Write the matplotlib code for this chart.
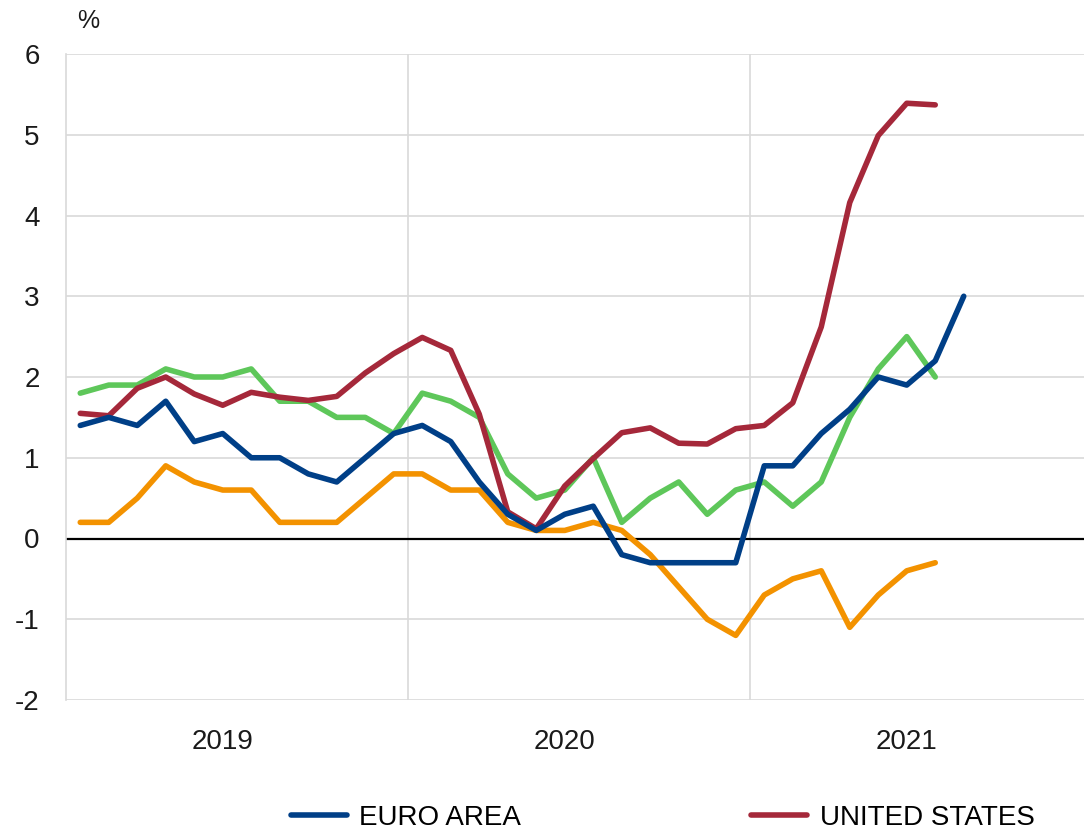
import numpy as np
import matplotlib
matplotlib.use("Agg")
import matplotlib.pyplot as plt

# monthly year-on-year inflation, Jan 2019 onwards (%)
euro_area = [1.4, 1.5, 1.4, 1.7, 1.2, 1.3, 1.0, 1.0, 0.8, 0.7, 1.0, 1.3,
             1.4, 1.2, 0.7, 0.3, 0.1, 0.3, 0.4, -0.2, -0.3, -0.3, -0.3, -0.3,
             0.9, 0.9, 1.3, 1.6, 2.0, 1.9, 2.2, 3.0]
united_states = [1.55, 1.52, 1.86, 2.0, 1.79, 1.65, 1.81, 1.75, 1.71, 1.76, 2.05, 2.29,
                 2.49, 2.33, 1.54, 0.33, 0.12, 0.65, 0.99, 1.31, 1.37, 1.18, 1.17, 1.36,
                 1.40, 1.68, 2.62, 4.16, 4.99, 5.39, 5.37]
united_kingdom = [1.8, 1.9, 1.9, 2.1, 2.0, 2.0, 2.1, 1.7, 1.7, 1.5, 1.5, 1.3,
                  1.8, 1.7, 1.5, 0.8, 0.5, 0.6, 1.0, 0.2, 0.5, 0.7, 0.3, 0.6,
                  0.7, 0.4, 0.7, 1.5, 2.1, 2.5, 2.0]
japan = [0.2, 0.2, 0.5, 0.9, 0.7, 0.6, 0.6, 0.2, 0.2, 0.2, 0.5, 0.8,
         0.8, 0.6, 0.6, 0.2, 0.1, 0.1, 0.2, 0.1, -0.2, -0.6, -1.0, -1.2,
         -0.7, -0.5, -0.4, -1.1, -0.7, -0.4, -0.3]
years = ["2019", "2020", "2021"]

plt.rcParams['font.family'] = ['Liberation Sans', 'DejaVu Sans']

fig = plt.figure(figsize=(10.84, 8.33), dpi=100)
ax = fig.add_axes([66 / 1084, 1 - 700 / 833, 1 - 66 / 1084, (700 - 54) / 833])

grid_c = '#d9d9d9'
text_c = '#1a1a1a'
lw = 4.0
ax.plot(np.arange(len(japan)), japan, color='#f39200', lw=lw, solid_capstyle='round', zorder=3)
ax.plot(np.arange(len(united_kingdom)), united_kingdom, color='#5ec75a', lw=lw, solid_capstyle='round', zorder=4)
ax.plot(np.arange(len(united_states)), united_states, color='#a5283a', lw=lw,
        solid_capstyle='round', zorder=5, label='UNITED STATES')
ax.plot(np.arange(len(euro_area)), euro_area, color='#003f87', lw=lw,
        solid_capstyle='round', zorder=6, label='EURO AREA')

ax.axhline(0, color='black', lw=1.6, zorder=2)

ax.set_xlim(-0.5, -0.5 + (1084 - 66) / 28.5)
ax.set_ylim(-2, 6)
ax.set_yticks(range(-2, 7))
ax.set_yticklabels([str(v) for v in range(-2, 7)])
ax.yaxis.grid(True, color=grid_c, lw=1.2, zorder=0)

# year boundaries as gridlines, year labels in between
ax.set_xticks([11.5, 23.5])
ax.set_xticklabels([])
ax.xaxis.grid(True, color=grid_c, lw=1.2, zorder=0)
ax.set_xticks([5, 17, 29], minor=True)
ax.set_xticklabels(years, minor=True)
ax.tick_params(axis='x', which='both', length=0, labelsize=20, pad=21, colors=text_c)
ax.tick_params(axis='y', length=0, labelsize=20, pad=19, colors=text_c)
ax.set_axisbelow(True)

for s in ['top', 'right', 'bottom']:
    ax.spines[s].set_visible(False)
ax.spines['left'].set_color(grid_c)
ax.spines['left'].set_linewidth(1.2)

fig.text(88 / 1084, 1 - 21 / 833, '%', fontsize=18, ha='center', va='center', color=text_c)

handles, labels = ax.get_legend_handles_labels()
fig.legend(handles[::-1], labels[::-1], loc='center left', bbox_to_anchor=(291 / 1084, 1 - 818 / 833),
           ncol=2, frameon=False, fontsize=20, handlelength=2.0, handletextpad=0.45,
           columnspacing=8.3, borderaxespad=0, borderpad=0)

fig.savefig('out.png', dpi=100)
